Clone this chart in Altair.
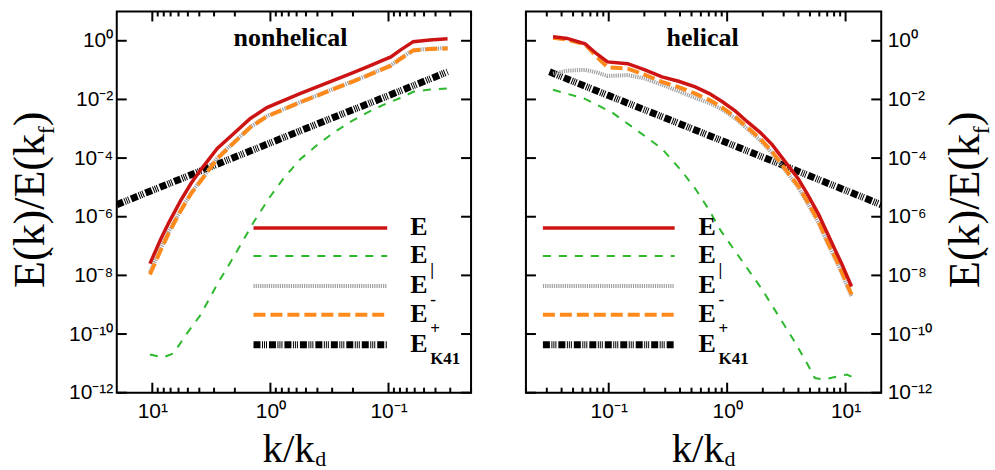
import altair as alt
import pandas as pd

# ---------------- data ----------------
# x = k/k_d ; y = E(k)/E(k_f).  Values are stored as log10 of the read values.

# nonhelical panel
nh_logk = [1.02, 0.93, 0.86, 0.76, 0.67, 0.59, 0.45, 0.31, 0.17, 0.03,
           -0.25, -0.54, -0.68, -0.82, -0.93, -1.02, -1.10, -1.21, -1.35, -1.50]
nh_E = [-7.60, -6.78, -6.20, -5.45, -4.85, -4.40, -3.67, -3.16, -2.65, -2.28,
        -1.80, -1.34, -1.12, -0.89, -0.70, -0.55, -0.32, -0.03, 0.03, 0.07]
nh_Ep = [-7.97, -7.15, -6.55, -5.80, -5.20, -4.78, -4.02, -3.48, -2.95, -2.58,
         -2.10, -1.64, -1.42, -1.19, -1.00, -0.85, -0.62, -0.33, -0.28, -0.26]
nh_Em = [-7.90, -7.10, -6.50, -5.78, -5.18, -4.75, -4.00, -3.46, -2.94, -2.57,
         -2.10, -1.63, -1.41, -1.18, -0.99, -0.84, -0.60, -0.32, -0.27, -0.25]
nh_par_logk = [1.02, 0.91, 0.82, 0.72, 0.59, 0.45, 0.31, 0.14, 0.00, -0.11,
               -0.25, -0.40, -0.54, -0.68, -0.82, -0.96, -1.10, -1.21, -1.35, -1.50]
nh_par = [-10.70, -10.80, -10.66, -10.05, -9.34, -8.30, -7.36, -6.17, -5.30, -4.70,
          -4.05, -3.54, -3.12, -2.76, -2.45, -2.18, -1.95, -1.74, -1.66, -1.63]

# helical panel
h_logk = [-1.47, -1.35, -1.20, -1.10, -1.01, -0.84, -0.70, -0.55, -0.41, -0.27,
          -0.15, -0.04, 0.07, 0.17, 0.28, 0.38, 0.51, 0.60, 0.68, 0.77,
          0.85, 0.92, 0.97, 1.05]
h_E = [0.14, 0.08, -0.10, -0.45, -0.72, -0.78, -0.98, -1.23, -1.38, -1.57,
       -1.80, -2.08, -2.40, -2.76, -3.13, -3.54, -4.23, -4.70, -5.25, -5.90,
       -6.60, -7.20, -7.63, -8.38]
h_Ep = [0.10, 0.04, -0.12, -0.55, -0.90, -0.95, -1.15, -1.40, -1.58, -1.80,
        -2.02, -2.28, -2.60, -2.95, -3.35, -3.78, -4.48, -4.95, -5.50, -6.15,
        -6.88, -7.45, -7.90, -8.65]
h_Em = [-1.12, -1.02, -0.99, -1.08, -1.20, -1.17, -1.28, -1.50, -1.72, -1.95,
        -2.12, -2.35, -2.65, -3.00, -3.40, -3.83, -4.52, -5.00, -5.55, -6.20,
        -6.93, -7.50, -7.95, -8.72]
h_par_logk = [-1.47, -1.20, -0.97, -0.78, -0.55, -0.38, -0.27, -0.16, -0.05,
              0.29, 0.57, 0.68, 0.74, 0.82, 1.01, 1.05]
h_par = [-1.67, -1.98, -2.45, -3.00, -3.68, -4.46, -5.04, -5.72, -6.50,
         -8.45, -10.26, -11.04, -11.50, -11.55, -11.38, -11.45]

# K41 reference line (same in both panels)
k41_logk = [1.301, 1.0, 0.5, 0.0, -0.5, -1.0, -1.5]
k41_E = [-5.59, -5.10, -4.29, -3.48, -2.67, -1.87, -1.06]

# ticks and labels
x_tick_major = [0.1, 1, 10]
x_tick_labels = ["10⁻¹", "10⁰", "10¹"]
x_tick_minor = [0.02, 0.03, 0.04, 0.05, 0.06, 0.07, 0.08, 0.09,
                0.2, 0.3, 0.4, 0.5, 0.6, 0.7, 0.8, 0.9,
                2, 3, 4, 5, 6, 7, 8, 9]
y_tick_major = [1, 1e-2, 1e-4, 1e-6, 1e-8, 1e-10, 1e-12]
y_tick_labels = ["10⁰", "10⁻²", "10⁻⁴", "10⁻⁶", "10⁻⁸", "10⁻¹⁰", "10⁻¹²"]

legend_keys = ["E", "par", "Em", "Ep", "K41"]
legend_subs = ["", "|", "-", "+", "K41"]
panel_titles = ["nonhelical", "helical"]

# ---------------- styling ----------------
SERIF = "Liberation Serif, Times New Roman, serif"
SANS = "Liberation Sans, Arial, sans-serif"
H = 382
STYLES = {
    "K41": dict(color="#000000", strokeWidth=7, strokeDash=[7, 1.5, 1, 1, 1, 1, 1, 2]),
    "par": dict(color="#2DB82D", strokeWidth=2, strokeDash=[8, 8]),
    "Em": dict(color="#A0A0A0", strokeWidth=4, strokeDash=[1.2, 1]),
    "Ep": dict(color="#FF8A1C", strokeWidth=4, strokeDash=[12, 5]),
    "E": dict(color="#CC1414", strokeWidth=3.5),
}
DRAW_ORDER = ["K41", "par", "Em", "Ep", "E"]

x_expr = "[" + ",".join("'%s'" % s for s in x_tick_labels) + "][round(log(datum.value)/LN10)+1]"
y_expr = "[" + ",".join("'%s'" % s for s in y_tick_labels) + "][round(-log(datum.value)/LN10/2)]"

one = pd.DataFrame({"_": [0]})


def df(logk, logE):
    return pd.DataFrame({"k": [10 ** v for v in logk], "E": [10 ** v for v in logE]})


def txt(text, x, y, size, bold=False, align="left", angle=0, font=SERIF):
    kw = dict(font=font, fontSize=size, align=align, baseline="alphabetic", color="black")
    if bold:
        kw["fontWeight"] = "bold"
    if angle:
        kw["angle"] = angle
    return alt.Chart(one).mark_text(**kw).encode(
        x=alt.value(x), y=alt.value(y), text=alt.value(text))


def panel(left):
    W = 355 if left else 356
    xs = alt.Scale(type="log", domain=[0.02, 20], reverse=left, nice=False)
    ys = alt.Scale(type="log", domain=[1e-12, 10], nice=False)
    xa = alt.Axis(values=x_tick_major, labelExpr=x_expr, ticks=False, tickSize=0,
                  domain=False, grid=False, title=None, labelFont=SANS,
                  labelFontSize=21, labelColor="black", labelPadding=8)
    ya = alt.Axis(orient="left" if left else "right", values=y_tick_major,
                  labelExpr=y_expr, ticks=False, tickSize=0, domain=False,
                  grid=False, title=None, labelFont=SANS, labelFontSize=21,
                  labelColor="black", labelPadding=4 if left else 6)
    X = alt.X("k:Q", scale=xs, axis=xa)
    Y = alt.Y("E:Q", scale=ys, axis=ya)

    if left:
        data = {"K41": df(k41_logk, k41_E), "par": df(nh_par_logk, nh_par),
                "Em": df(nh_logk, nh_Em), "Ep": df(nh_logk, nh_Ep), "E": df(nh_logk, nh_E)}
    else:
        data = {"K41": df(k41_logk, k41_E), "par": df(h_par_logk, h_par),
                "Em": df(h_logk, h_Em), "Ep": df(h_logk, h_Ep), "E": df(h_logk, h_E)}

    layers = []
    # invisible frame that pins the overall page bounds
    if left:
        layers.append(alt.Chart(one).mark_rect(opacity=0).encode(
            x=alt.value(-116), x2=alt.value(W), y=alt.value(-10), y2=alt.value(H + 78)))
    else:
        layers.append(alt.Chart(one).mark_rect(opacity=0).encode(
            x=alt.value(0), x2=alt.value(W + 113), y=alt.value(-10), y2=alt.value(H + 78)))

    for key in DRAW_ORDER:
        layers.append(alt.Chart(data[key]).mark_line(clip=True, **STYLES[key]).encode(x=X, y=Y))

    # inward ticks
    xmaj = pd.DataFrame({"k": x_tick_major})
    xmin = pd.DataFrame({"k": x_tick_minor})
    ymaj = pd.DataFrame({"E": y_tick_major})
    tk = dict(color="black", strokeWidth=2)
    layers += [
        alt.Chart(xmaj).mark_rule(**tk).encode(x=X, y=alt.value(H), y2=alt.value(H - 10)),
        alt.Chart(xmaj).mark_rule(**tk).encode(x=X, y=alt.value(0), y2=alt.value(10)),
        alt.Chart(xmin).mark_rule(**tk).encode(x=X, y=alt.value(H), y2=alt.value(H - 5)),
        alt.Chart(xmin).mark_rule(**tk).encode(x=X, y=alt.value(0), y2=alt.value(5)),
        alt.Chart(ymaj).mark_rule(**tk).encode(y=Y, x=alt.value(0), x2=alt.value(10)),
        alt.Chart(ymaj).mark_rule(**tk).encode(y=Y, x=alt.value(W - 10), x2=alt.value(W)),
    ]

    # legend
    line_x0, line_x1, lab_x = (137, 271, 294) if left else (17, 149, 173)
    ly = [217, 245, 275, 304, 334]
    for key, sub, y in zip(legend_keys, legend_subs, ly):
        layers.append(alt.Chart(one).mark_rule(**STYLES[key]).encode(
            x=alt.value(line_x0), x2=alt.value(line_x1), y=alt.value(y)))
        layers.append(txt("E", lab_x, y + 7, 26, bold=True))
        if sub:
            layers.append(txt(sub, lab_x + 20, y + 19, 17, bold=True))

    # panel title
    layers.append(txt(panel_titles[0] if left else panel_titles[1],
                      174 if left else 177, 35, 26, bold=True, align="center"))

    # x title  k/k_d
    layers.append(txt("k/k", 146, 451, 41))
    layers.append(txt("d", 199, 455, 22))

    # y title  E.(k)/E(k_f), rotated
    bx = -73 if left else 454
    layers += [
        txt("E", bx, 277, 44, angle=270),
        txt(".", bx + 8, 246, 24, angle=270),
        txt("(k)/E(k", bx, 250, 44, angle=270),
        txt("f", bx + 10, 123, 24, angle=270),
        txt(")", bx, 115, 44, angle=270),
    ]

    return alt.layer(*layers).properties(width=W, height=H)


chart = alt.hconcat(panel(True), panel(False), spacing=55, bounds="flush").properties(
    padding=0
).configure_view(stroke="black", strokeWidth=2)

chart.save("out.html", embed_options={"renderer": "svg", "actions": False})
